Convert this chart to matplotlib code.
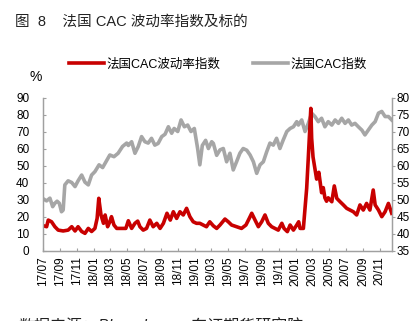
import numpy as np
import pandas as pd
import matplotlib
matplotlib.use("Agg")
import matplotlib.pyplot as plt
import matplotlib.dates as mdates
from matplotlib.lines import Line2D

plt.rcParams['font.family'] = ['Liberation Sans', 'Noto Sans CJK SC', 'DejaVu Sans']
plt.rcParams['axes.unicode_minus'] = False

# ── data ──────────────────────────────────────────────────────────────────────

vol_dates = [
    "2017-07-01", "2017-07-13", "2017-07-19", "2017-07-31", "2017-08-12", "2017-08-24",
    "2017-09-11", "2017-09-29", "2017-10-12", "2017-10-24", "2017-11-04", "2017-11-17",
    "2017-11-29", "2017-12-11", "2017-12-23", "2018-01-04", "2018-01-12", "2018-01-18",
    "2018-01-26", "2018-02-04", "2018-02-10", "2018-02-19", "2018-02-27", "2018-03-05",
    "2018-03-14", "2018-03-24", "2018-04-11", "2018-04-26", "2018-05-05", "2018-05-17",
    "2018-05-29", "2018-06-08", "2018-06-16", "2018-06-28", "2018-07-10", "2018-07-22",
    "2018-08-03", "2018-08-16", "2018-08-28", "2018-09-09", "2018-09-22", "2018-10-04",
    "2018-10-15", "2018-10-27", "2018-11-08", "2018-11-20", "2018-12-02", "2018-12-14",
    "2018-12-26", "2019-01-07", "2019-01-19", "2019-01-31", "2019-02-12", "2019-02-24",
    "2019-03-09", "2019-03-21", "2019-04-02", "2019-04-20", "2019-05-02", "2019-05-14",
    "2019-06-01", "2019-06-19", "2019-07-05", "2019-07-17", "2019-07-26", "2019-08-07",
    "2019-08-19", "2019-08-31", "2019-09-12", "2019-09-24", "2019-10-06", "2019-10-18",
    "2019-10-30", "2019-11-12", "2019-11-20", "2019-12-02", "2019-12-12", "2019-12-24",
    "2020-01-05", "2020-01-12", "2020-01-17", "2020-01-29", "2020-02-04", "2020-02-10",
    "2020-02-16", "2020-02-25", "2020-02-28", "2020-03-04", "2020-03-11", "2020-03-17",
    "2020-03-25", "2020-04-04", "2020-04-10", "2020-04-16", "2020-04-22", "2020-04-28",
    "2020-05-11", "2020-05-20", "2020-05-29", "2020-06-10", "2020-06-22", "2020-07-04",
    "2020-07-16", "2020-07-28", "2020-08-09", "2020-08-21", "2020-09-02", "2020-09-14",
    "2020-09-26", "2020-10-08", "2020-10-15", "2020-10-27", "2020-11-08", "2020-11-20",
    "2020-12-02", "2020-12-14",
]
vol_values = [
    14.6, 14.0, 17.9, 16.9, 14.0, 12.0,
    11.5, 12.0, 14.0, 11.5, 14.0, 11.2,
    10.1, 13.0, 11.2, 13.0, 18.9, 30.7,
    20.9, 16.0, 20.9, 14.0, 16.9, 19.9,
    15.0, 13.0, 13.0, 13.0, 17.5, 13.0,
    16.0, 17.3, 14.0, 12.0, 13.0, 17.9,
    14.0, 16.0, 13.0, 16.0, 21.9, 17.9,
    22.8, 18.9, 22.8, 20.9, 24.8, 19.9,
    16.9, 16.0, 16.0, 15.0, 14.0, 16.9,
    14.5, 13.0, 15.0, 18.5, 16.9, 15.0,
    14.0, 13.0, 15.0, 18.9, 21.9, 17.9,
    14.0, 16.9, 20.9, 16.0, 14.0, 13.0,
    12.0, 16.0, 13.0, 11.1, 15.0, 12.0,
    15.0, 16.9, 13.0, 13.0, 24.8, 36.6,
    55.0, 83.6, 66.0, 55.0, 48.0, 42.0,
    46.0, 34.0, 37.0, 31.0, 29.0, 31.0,
    28.7, 38.0, 30.7, 28.7, 26.8, 24.8,
    23.8, 22.8, 20.9, 26.8, 23.8, 27.7,
    23.8, 35.6, 26.8, 23.8, 19.9, 22.8,
    27.7, 21.9,
]

idx_dates = [
    "2017-07-01", "2017-07-13", "2017-07-25", "2017-08-04", "2017-08-12", "2017-08-20",
    "2017-08-28", "2017-09-05", "2017-09-11", "2017-09-17", "2017-09-29", "2017-10-12",
    "2017-10-24", "2017-11-04", "2017-11-17", "2017-11-29", "2017-12-11", "2017-12-23",
    "2018-01-04", "2018-01-19", "2018-02-01", "2018-02-13", "2018-02-27", "2018-03-14",
    "2018-03-29", "2018-04-14", "2018-04-29", "2018-05-05", "2018-05-17", "2018-05-29",
    "2018-06-10", "2018-06-22", "2018-07-04", "2018-07-16", "2018-07-28", "2018-08-09",
    "2018-08-21", "2018-09-03", "2018-09-15", "2018-09-27", "2018-10-09", "2018-10-18",
    "2018-10-31", "2018-11-12", "2018-11-24", "2018-12-06", "2018-12-18", "2018-12-30",
    "2019-01-11", "2019-01-19", "2019-01-28", "2019-02-09", "2019-02-19", "2019-03-03",
    "2019-03-09", "2019-03-21", "2019-04-02", "2019-04-14", "2019-04-26", "2019-05-08",
    "2019-05-20", "2019-06-01", "2019-06-13", "2019-06-25", "2019-07-08", "2019-07-20",
    "2019-08-01", "2019-08-13", "2019-08-25", "2019-09-06", "2019-09-18", "2019-09-30",
    "2019-10-12", "2019-10-24", "2019-11-05", "2019-11-17", "2019-11-30", "2019-12-12",
    "2019-12-24", "2020-01-05", "2020-01-11", "2020-01-23", "2020-02-04", "2020-02-16",
    "2020-02-28", "2020-03-11", "2020-03-23", "2020-04-04", "2020-04-16", "2020-04-28",
    "2020-05-11", "2020-05-23", "2020-06-04", "2020-06-16", "2020-06-28", "2020-07-10",
    "2020-07-22", "2020-08-03", "2020-08-15", "2020-08-28", "2020-09-08", "2020-09-20",
    "2020-10-03", "2020-10-15", "2020-10-27", "2020-11-08", "2020-11-20", "2020-12-02",
    "2020-12-14",
]
idx_values = [
    50.2, 49.6, 50.4, 47.9, 48.9, 49.5,
    48.9, 46.4, 46.9, 54.3, 55.5, 55.0,
    53.8, 55.5, 57.2, 55.1, 54.3, 57.2,
    58.2, 60.2, 59.4, 61.1, 63.1, 62.6,
    63.6, 65.6, 66.6, 65.9, 67.0, 63.6,
    65.6, 68.5, 67.0, 66.6, 68.0, 66.0,
    66.5, 68.5, 69.2, 71.4, 69.5, 70.9,
    70.0, 73.4, 71.4, 71.9, 70.0, 70.9,
    65.0, 60.2, 65.9, 67.4, 65.0, 67.0,
    66.5, 63.0, 64.6, 65.0, 61.1, 63.6,
    58.7, 61.1, 63.6, 65.0, 64.5, 63.1,
    61.1, 57.7, 60.2, 61.1, 64.0, 66.6,
    66.0, 68.0, 65.0, 67.5, 70.0, 70.9,
    71.4, 72.9, 71.9, 73.4, 70.0, 72.4,
    75.4, 74.4, 72.9, 73.9, 71.4, 72.9,
    71.9, 73.4, 72.4, 73.9, 72.4, 73.4,
    71.9, 72.4, 71.4, 70.4, 69.0, 70.4,
    71.9, 72.9, 75.4, 75.9, 74.4, 74.4,
    73.4,
]

left_ticks = [0, 10, 20, 30, 40, 50, 60, 70, 80, 90]
right_ticks = [35, 40, 45, 50, 55, 60, 65, 70, 75, 80]

RED = '#C80000'
GREY = '#A6A6A6'
AXIS = '#A0A0A0'

# ── plot ──────────────────────────────────────────────────────────────────────

fig = plt.figure(figsize=(4.15, 3.21), dpi=100)
ax = fig.add_axes([0.1043, 0.2196, 0.8396, 0.4766])
ax2 = ax.twinx()
ax.set_zorder(ax2.get_zorder() + 1)
ax.patch.set_visible(False)

vd = pd.to_datetime(vol_dates)
idd = pd.to_datetime(idx_dates)
ax.plot(vd, vol_values, color=RED, linewidth=2.6, solid_joinstyle='round')
ax2.plot(idd, idx_values, color=GREY, linewidth=2.6, solid_joinstyle='round')

ax.set_xlim(pd.Timestamp(vol_dates[0]), pd.Timestamp(vol_dates[-1]))
ax.set_ylim(left_ticks[0], left_ticks[-1])
ax2.set_ylim(right_ticks[0], right_ticks[-1])
ax.set_yticks(left_ticks)
ax2.set_yticks(right_ticks)

ax.xaxis.set_major_locator(mdates.MonthLocator(bymonth=[1, 3, 5, 7, 9, 11]))
ax.xaxis.set_major_formatter(mdates.DateFormatter('%y/%m'))
for lab in ax.get_xticklabels():
    lab.set_rotation(90)

for a in (ax, ax2):
    a.spines['top'].set_visible(False)
    for s in ('left', 'right', 'bottom'):
        a.spines[s].set_color(AXIS)
        a.spines[s].set_linewidth(0.9)

ax.tick_params(axis='x', direction='in', length=2.2, width=0.8, color=AXIS,
               labelsize=8.5, pad=4)
ax.tick_params(axis='y', direction='in', length=2.5, width=0.8, color=AXIS,
               labelsize=8.5, pad=10)
ax2.tick_params(axis='y', direction='out', length=2.5, width=0.8, color=AXIS,
                labelsize=8.5, pad=1)

# legend above plot
handles = [Line2D([], [], color=RED, linewidth=2.6),
           Line2D([], [], color=GREY, linewidth=2.6)]
fig.legend(handles, ['法国CAC波动率指数', '法国CAC指数'],
           loc='center', bbox_to_anchor=(0.525, 0.80), ncol=2, frameon=False,
           fontsize=9, handlelength=2.8, handletextpad=0.2, columnspacing=2.6)

fig.text(36 / 415, 1 - 77 / 321, '%', fontsize=10, ha='center', va='center')
fig.text(15 / 415, 1 - 22 / 321, '图  8    法国 CAC 波动率指数及标的',
         fontsize=10.5, ha='left', va='center', color='#222222')
# source line sits at the bottom edge, cut off as in the reference
fig.text(18 / 415, 1 - 317 / 321, '数据来源：Bloomberg，东证期货研究院',
         fontsize=11.5, ha='left', va='top', style='italic', color='#222222')

fig.savefig('out.png', dpi=100)
